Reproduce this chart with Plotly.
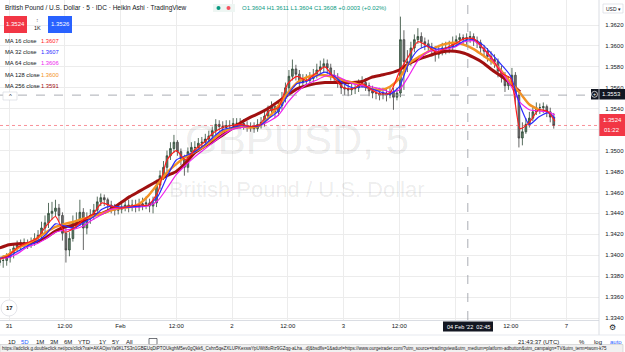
import plotly.graph_objects as go

# ---------------- data ----------------
# Heikin Ashi bars, one every 45 min, hours counted from Jan 31 00:00 (weekend removed)
bar_start_hour = -2.0
bar_step_hour = 0.75
first_open = 1.3393
closes = [
    1.3395, 1.3395, 1.3398, 1.3402, 1.3407, 1.3410, 1.3412, 1.3412, 1.3412, 1.3413,
    1.3416, 1.3419, 1.3426, 1.3431, 1.3440, 1.3442, 1.3445, 1.3438, 1.3421, 1.3405,
    1.3416, 1.3431, 1.3433, 1.3441, 1.3426, 1.3436, 1.3438, 1.3443, 1.3451, 1.3455,
    1.3453, 1.3448, 1.3445, 1.3443, 1.3444, 1.3446, 1.3448, 1.3446, 1.3448, 1.3446,
    1.3448, 1.3449, 1.3450, 1.3447, 1.3450, 1.3467, 1.3476, 1.3484, 1.3495, 1.3502,
    1.3508, 1.3499, 1.3492, 1.3484, 1.3499, 1.3503, 1.3503, 1.3507, 1.3508, 1.3511,
    1.3514, 1.3519, 1.3525, 1.3523, 1.3522, 1.3524, 1.3524, 1.3526, 1.3526, 1.3526,
    1.3524, 1.3522, 1.3522, 1.3521, 1.3525, 1.3527, 1.3533, 1.3538, 1.3542, 1.3537,
    1.3543, 1.3550, 1.3560, 1.3571, 1.3578, 1.3573, 1.3565, 1.3567, 1.3567, 1.3569,
    1.3572, 1.3577, 1.3580, 1.3583, 1.3579, 1.3572, 1.3570, 1.3565, 1.3560, 1.3559,
    1.3558, 1.3559, 1.3560, 1.3564, 1.3565, 1.3562, 1.3557, 1.3555, 1.3555, 1.3553,
    1.3555, 1.3553, 1.3556, 1.3551, 1.3555, 1.3606, 1.3585, 1.3584, 1.3598, 1.3606,
    1.3609, 1.3604, 1.3602, 1.3599, 1.3596, 1.3592, 1.3595, 1.3598, 1.3598, 1.3599,
    1.3603, 1.3606, 1.3608, 1.3606, 1.3608, 1.3609, 1.3605, 1.3603, 1.3598, 1.3595,
    1.3590, 1.3587, 1.3585, 1.3576, 1.3570, 1.3562, 1.3565, 1.3572, 1.3553, 1.3512,
    1.3518, 1.3525, 1.3531, 1.3537, 1.3541, 1.3541, 1.3542, 1.3537, 1.3532, 1.3524,
]
highs = [
    1.3399, 1.3400, 1.3402, 1.3406, 1.3411, 1.3414, 1.3415, 1.3416, 1.3415, 1.3417,
    1.3421, 1.3424, 1.3432, 1.3438, 1.3450, 1.3451, 1.3453, 1.3449, 1.3441, 1.3426,
    1.3422, 1.3438, 1.3441, 1.3453, 1.3445, 1.3441, 1.3444, 1.3449, 1.3456, 1.3459,
    1.3458, 1.3455, 1.3452, 1.3449, 1.3449, 1.3451, 1.3453, 1.3453, 1.3453, 1.3453,
    1.3454, 1.3455, 1.3456, 1.3454, 1.3456, 1.3472, 1.3481, 1.3490, 1.3500, 1.3508,
    1.3515, 1.3510, 1.3502, 1.3496, 1.3503, 1.3508, 1.3509, 1.3512, 1.3513, 1.3516,
    1.3519, 1.3523, 1.3530, 1.3529, 1.3528, 1.3529, 1.3529, 1.3531, 1.3531, 1.3531,
    1.3530, 1.3528, 1.3527, 1.3527, 1.3530, 1.3532, 1.3538, 1.3543, 1.3547, 1.3544,
    1.3548, 1.3556, 1.3565, 1.3577, 1.3587, 1.3582, 1.3577, 1.3573, 1.3573, 1.3575,
    1.3578, 1.3583, 1.3586, 1.3588, 1.3587, 1.3583, 1.3577, 1.3574, 1.3569, 1.3565,
    1.3564, 1.3564, 1.3565, 1.3568, 1.3571, 1.3569, 1.3565, 1.3562, 1.3560, 1.3560,
    1.3560, 1.3559, 1.3561, 1.3560, 1.3560, 1.3628, 1.3615, 1.3596, 1.3604, 1.3611,
    1.3617, 1.3613, 1.3608, 1.3606, 1.3603, 1.3600, 1.3601, 1.3603, 1.3604, 1.3605,
    1.3609, 1.3610, 1.3612, 1.3611, 1.3612, 1.3614, 1.3612, 1.3609, 1.3606, 1.3601,
    1.3598, 1.3595, 1.3592, 1.3588, 1.3581, 1.3575, 1.3571, 1.3579, 1.3575, 1.3556,
    1.3527, 1.3531, 1.3537, 1.3543, 1.3546, 1.3545, 1.3546, 1.3544, 1.3541, 1.3536,
]
lows = [
    1.3390, 1.3388, 1.3390, 1.3393, 1.3397, 1.3403, 1.3405, 1.3406, 1.3406, 1.3407,
    1.3409, 1.3412, 1.3414, 1.3422, 1.3426, 1.3434, 1.3437, 1.3432, 1.3414, 1.3393,
    1.3399, 1.3413, 1.3426, 1.3428, 1.3405, 1.3420, 1.3430, 1.3434, 1.3439, 1.3447,
    1.3447, 1.3443, 1.3440, 1.3438, 1.3439, 1.3440, 1.3442, 1.3441, 1.3442, 1.3441,
    1.3442, 1.3443, 1.3444, 1.3441, 1.3440, 1.3446, 1.3463, 1.3472, 1.3480, 1.3491,
    1.3498, 1.3495, 1.3486, 1.3476, 1.3479, 1.3496, 1.3498, 1.3500, 1.3502, 1.3504,
    1.3507, 1.3510, 1.3515, 1.3519, 1.3518, 1.3519, 1.3520, 1.3521, 1.3521, 1.3521,
    1.3520, 1.3518, 1.3518, 1.3517, 1.3518, 1.3521, 1.3523, 1.3529, 1.3534, 1.3531,
    1.3533, 1.3539, 1.3546, 1.3556, 1.3567, 1.3567, 1.3560, 1.3562, 1.3562, 1.3564,
    1.3565, 1.3569, 1.3573, 1.3575, 1.3573, 1.3567, 1.3565, 1.3560, 1.3554, 1.3553,
    1.3552, 1.3553, 1.3554, 1.3556, 1.3560, 1.3557, 1.3552, 1.3550, 1.3549, 1.3548,
    1.3549, 1.3547, 1.3550, 1.3539, 1.3548, 1.3551, 1.3558, 1.3575, 1.3581, 1.3594,
    1.3602, 1.3598, 1.3596, 1.3594, 1.3590, 1.3585, 1.3588, 1.3591, 1.3592, 1.3593,
    1.3595, 1.3599, 1.3601, 1.3601, 1.3601, 1.3603, 1.3600, 1.3598, 1.3593, 1.3589,
    1.3585, 1.3582, 1.3579, 1.3570, 1.3565, 1.3556, 1.3558, 1.3562, 1.3544, 1.3503,
    1.3505, 1.3516, 1.3522, 1.3528, 1.3534, 1.3535, 1.3536, 1.3532, 1.3527, 1.3521,
]

# moving averages, sampled every 2 hours
ma_hours = list(range(-2, 118, 2)) + [117.5]
ma16 = [
    1.3396, 1.3400, 1.3408, 1.3412, 1.3416, 1.3428, 1.3437, 1.3422, 1.3426, 1.3434,
    1.3439, 1.3450, 1.3447, 1.3445, 1.3447, 1.3448, 1.3448, 1.3460, 1.3491, 1.3500,
    1.3491, 1.3501, 1.3508, 1.3517, 1.3522, 1.3524, 1.3525, 1.3523, 1.3525, 1.3538,
    1.3541, 1.3564, 1.3571, 1.3567, 1.3574, 1.3580, 1.3569, 1.3560, 1.3559, 1.3564,
    1.3558, 1.3554, 1.3555, 1.3575, 1.3590, 1.3604, 1.3600, 1.3594, 1.3598, 1.3602,
    1.3607, 1.3607, 1.3598, 1.3588, 1.3574, 1.3569, 1.3521, 1.3527, 1.3539, 1.3537,
    1.3528,
]
ma32 = [
    1.3397, 1.3399, 1.3404, 1.3409, 1.3413, 1.3420, 1.3430, 1.3428, 1.3426, 1.3431,
    1.3436, 1.3444, 1.3447, 1.3446, 1.3446, 1.3447, 1.3448, 1.3456, 1.3475, 1.3491,
    1.3495, 1.3499, 1.3505, 1.3513, 1.3520, 1.3522, 1.3524, 1.3523, 1.3524, 1.3531,
    1.3538, 1.3553, 1.3564, 1.3566, 1.3571, 1.3575, 1.3571, 1.3564, 1.3560, 1.3561,
    1.3559, 1.3556, 1.3554, 1.3561, 1.3583, 1.3596, 1.3600, 1.3597, 1.3598, 1.3600,
    1.3605, 1.3606, 1.3601, 1.3592, 1.3582, 1.3571, 1.3543, 1.3525, 1.3532, 1.3536,
    1.3531,
]
ma64 = [
    1.3397, 1.3398, 1.3402, 1.3408, 1.3411, 1.3416, 1.3422, 1.3424, 1.3425, 1.3428,
    1.3434, 1.3439, 1.3444, 1.3445, 1.3446, 1.3446, 1.3447, 1.3452, 1.3464, 1.3477,
    1.3486, 1.3494, 1.3501, 1.3508, 1.3515, 1.3520, 1.3522, 1.3523, 1.3524, 1.3528,
    1.3534, 1.3546, 1.3556, 1.3563, 1.3567, 1.3571, 1.3572, 1.3568, 1.3564, 1.3562,
    1.3561, 1.3559, 1.3556, 1.3558, 1.3571, 1.3586, 1.3594, 1.3596, 1.3597, 1.3599,
    1.3604, 1.3605, 1.3598, 1.3587, 1.3575, 1.3562, 1.3546, 1.3539, 1.3538, 1.3537,
    1.3534,
]
ma128 = [
    1.3397, 1.3401, 1.3407, 1.3411, 1.3416, 1.3422, 1.3427, 1.3430, 1.3432, 1.3435,
    1.3437, 1.3440, 1.3443, 1.3445, 1.3446, 1.3449, 1.3457, 1.3468, 1.3479, 1.3487,
    1.3494, 1.3499, 1.3504, 1.3511, 1.3518, 1.3521, 1.3523, 1.3522, 1.3524, 1.3532,
    1.3543, 1.3555, 1.3565, 1.3570, 1.3572, 1.3572, 1.3570, 1.3567, 1.3565, 1.3562,
    1.3559, 1.3558, 1.3561, 1.3569, 1.3583, 1.3589, 1.3594, 1.3599, 1.3602, 1.3603,
    1.3601, 1.3597, 1.3591, 1.3585, 1.3576, 1.3565, 1.3555, 1.3544, 1.3539,
]
ma256 = [
    1.3407, 1.3410, 1.3411, 1.3411, 1.3413, 1.3417, 1.3423, 1.3427, 1.3429, 1.3433,
    1.3438, 1.3440, 1.3444, 1.3450, 1.3456, 1.3461, 1.3466, 1.3471, 1.3476, 1.3480,
    1.3488, 1.3498, 1.3504, 1.3509, 1.3515, 1.3521, 1.3527, 1.3532, 1.3536, 1.3541,
    1.3547, 1.3553, 1.3559, 1.3562, 1.3564, 1.3565, 1.3565, 1.3565, 1.3565, 1.3566,
    1.3570, 1.3572, 1.3574, 1.3577, 1.3583, 1.3587, 1.3590, 1.3593, 1.3595, 1.3595,
    1.3593, 1.3589, 1.3584, 1.3577, 1.3571, 1.3564, 1.3556,
]

# axis labels; "4" (Feb 4) and 1.3520 are hidden behind the crosshair / price labels
tick_hours = [0, 12, 24, 36, 48, 60, 72, 84, 96, 108, 120]
tick_text = ["31", "12:00", "Feb", "12:00", "2", "12:00", "3", "12:00", "", "12:00", "7"]
price_ticks = [1.3340, 1.3360, 1.3380, 1.3400, 1.3420, 1.3440, 1.3460, 1.3480,
               1.3500, 1.3520, 1.3540, 1.3560, 1.3580, 1.3600, 1.3620]
hidden_price_ticks = [1.3520]

legend_names = ["MA 16 close", "MA 32 close", "MA 64 close", "MA 128 close", "MA 256 close"]
legend_values = ["1.3607", "1.3607", "1.3606", "1.3600", "1.3591"]
ma_colors = ["#ff1d1d", "#2a2aff", "#ee22ee", "#f39224", "#a01010"]

last_price = 1.3524
bid_price = "1.3524"
ask_price = "1.3526"
cross_price = 1.3553
cross_hour = 98.75

x_range = [-1.94, 126.99]
y_range = [1.33381, 1.36439]

# ---------------- figure ----------------
W, H = 625, 352
ML, MR, MT, MB = 0, 26, 0, 32
PW, PH = W - ML - MR, H - MT - MB
FONT = "Liberation Sans, Arial, DejaVu Sans, sans-serif"


def px(x):
    return x / PW


def py(y):
    return 1 - y / PH


bar_hours = [bar_start_hour + bar_step_hour * i for i in range(len(closes))]
opens = [first_open] + closes[:-1]

fig = go.Figure()
fig.add_trace(go.Candlestick(
    x=bar_hours, open=opens, high=highs, low=lows, close=closes,
    increasing=dict(line=dict(color="#2e4a37", width=0.8), fillcolor="#66806d"),
    decreasing=dict(line=dict(color="#404040", width=0.8), fillcolor="#767676"),
    whiskerwidth=0, showlegend=False, hoverinfo="skip"))

ma_series = [ma256, ma128, ma64, ma32, ma16]
ma_styles = [(ma_colors[4], 3.0), (ma_colors[3], 2.4), (ma_colors[2], 1.2),
             (ma_colors[1], 1.2), (ma_colors[0], 1.2)]
for vals, (col, wid) in zip(ma_series, ma_styles):
    fig.add_trace(go.Scatter(
        x=ma_hours[:len(vals)], y=vals, mode="lines",
        line=dict(color=col, width=wid, shape="spline", smoothing=0.6),
        hoverinfo="skip", showlegend=False))

shapes = []
annotations = []


def txt(x, y, s, size=6, color="#131722", xanchor="left", **kw):
    annotations.append(dict(x=px(x), y=py(y), xref="paper", yref="paper", text=s,
                            showarrow=False, xanchor=xanchor, yanchor="middle",
                            font=dict(size=size, color=color, family=FONT), **kw))


def rect(x0, y0, x1, y1, fill, line=None, lw=0):
    shapes.append(dict(type="rect", xref="paper", yref="paper",
                       x0=px(x0), x1=px(x1), y0=py(y0), y1=py(y1),
                       fillcolor=fill, line=dict(color=line or fill, width=lw), layer="above"))


def hline(x0, x1, y, color, w=1):
    shapes.append(dict(type="line", xref="paper", yref="paper", x0=px(x0), x1=px(x1),
                       y0=py(y), y1=py(y), line=dict(color=color, width=w)))


def vline(x, y0, y1, color, w=1):
    shapes.append(dict(type="line", xref="paper", yref="paper", x0=px(x), x1=px(x),
                       y0=py(y0), y1=py(y1), line=dict(color=color, width=w)))


# watermark
txt(297, 139, "GBPUSD, 5", size=42, color="rgba(0,0,0,0.085)", xanchor="center")
txt(297, 189, "British Pound / U.S. Dollar", size=22, color="rgba(0,0,0,0.085)", xanchor="center")

# crosshair & last price lines
shapes.append(dict(type="line", xref="x", yref="paper", x0=cross_hour, x1=cross_hour, y0=0, y1=1,
                   line=dict(color="#9598a1", width=0.8, dash="dash")))
shapes.append(dict(type="line", xref="paper", yref="y", x0=0, x1=1, y0=cross_price, y1=cross_price,
                   line=dict(color="#9598a1", width=0.8, dash="dash")))
shapes.append(dict(type="line", xref="paper", yref="y", x0=0, x1=1, y0=last_price, y1=last_price,
                   line=dict(color="rgba(242,54,69,0.55)", width=1, dash="dot")))

# header
txt(3, 8, "British Pound / U.S. Dollar · 5 · IDC · Heikin Ashi · TradingView", size=6.5, color="#131722")
rect(213, 4, 235, 12, "#eef6f3")
shapes.append(dict(type="circle", xref="paper", yref="paper", x0=px(216.5), x1=px(220.5),
                   y0=py(10), y1=py(6), fillcolor="#089981", line=dict(width=0)))
shapes.append(dict(type="circle", xref="paper", yref="paper", x0=px(226.5), x1=px(230.5),
                   y0=py(10), y1=py(6), fillcolor="#f7525f", line=dict(width=0)))
txt(240, 8, "O1.3604 H1.3611 L1.3604 C1.3608 +0.0003 (+0.02%)", size=6, color="#089981")

# bid / ask boxes
rect(4, 16, 27, 33, "#f23645")
txt(15.5, 24.5, bid_price, size=6, color="white", xanchor="center")
txt(37, 20, "↕", size=5, color="#787b86", xanchor="center")
txt(37, 28, "1K", size=5.5, color="#131722", xanchor="center")
rect(48, 16, 72, 33, "#2962ff")
txt(60, 24.5, ask_price, size=6, color="white", xanchor="center")

# MA legend
for i, (name, val, col) in enumerate(zip(legend_names, legend_values, ma_colors)):
    yy = 41 + i * 11.2
    txt(3, yy, name, size=5.8, color="#131722")
    txt(39, yy, val, size=5.8, color=col)
rect(3, 92, 17, 100, "white", "#d1d4dc", 0.6)
txt(10, 96.5, "^", size=6, color="#131722", xanchor="center")

# right axis decorations
rect(603, 4, 623, 13, "white", "#d1d4dc", 0.6)
txt(613, 8.5, "USD ▾", size=5, color="#131722", xanchor="center")
rect(591, 89, 625, 99.5, "#131722")
shapes.append(dict(type="circle", xref="paper", yref="paper", x0=px(591.5), x1=px(597.5),
                   y0=py(97.3), y1=py(91.3), line=dict(color="white", width=0.7)))
txt(594.5, 94.3, "+", size=5.5, color="white", xanchor="center")
txt(611, 94.3, "1.3553", size=6, color="white", xanchor="center")
rect(599, 114, 625, 136, "#f23645")
txt(612, 119.5, "1.3524", size=6, color="white", xanchor="center")
txt(612, 130, "01:22", size=6, color="white", xanchor="center")

# bottom axis decorations
rect(443, 321.5, 493, 331.5, "#131722")
txt(468, 326.5, "04 Feb '22  02:45", size=5.6, color="white", xanchor="center")
vline(599, 0, 335, "#d1d4dc", 0.8)
hline(0, 625, 335, "#e0e3eb", 0.8)
txt(612, 327, "⚙", size=8, color="#131722", xanchor="center")
shapes.append(dict(type="circle", xref="paper", yref="paper", x0=px(1), x1=px(17),
                   y0=py(316), y1=py(300), fillcolor="white", line=dict(color="#d1d4dc", width=0.6)))
txt(9, 308, "<b>17</b>", size=6, color="#131722", xanchor="center")

# toolbar
for lab, xx, col in [("1D", 12, "#131722"), ("5D", 25, "#2962ff"), ("1M", 40, "#131722"),
                     ("3M", 54, "#131722"), ("6M", 68, "#131722"), ("YTD", 85, "#131722"),
                     ("1Y", 102, "#131722"), ("5Y", 115, "#131722"), ("All", 129, "#131722")]:
    txt(xx, 342, lab, size=6, color=col, xanchor="center")
rect(149, 338.5, 157, 344.5, "white", "#131722", 0.6)
txt(538, 341.5, "21:43:37 (UTC)", size=6, color="#131722", xanchor="center")
txt(582, 341.5, "%", size=6, color="#131722", xanchor="center")
txt(598, 341.5, "log", size=6, color="#131722", xanchor="center")
txt(616, 341.5, "auto", size=6, color="#2962ff", xanchor="center")

# browser status bar
rect(0, 344.5, 623, 352.5, "#f1f1f1", "#c8c8c8", 0.6)
txt(0.5, 348.5,
    "https://adclick.g.doubleclick.net/pcs/click?xai=AKAOjsvYa9KLTS3n1GBEUqDiPTOUkghM5ev0gQkk6_Cshn5qeZXLUPKexswYpUWt8oRiz9GZqg-aLha...d]&amp;bsdfls=1&amp;adurl=https://www.ourgetrader.com/?utm_source=tradingview&amp;utm_medium=platform-adbutton&amp;utm_campaign=TV&amp;utm_term=twom-k75",
    size=4.5, color="#222222", borderpad=0)

fig.update_layout(
    width=W, height=H, margin=dict(l=ML, r=MR, t=MT, b=MB),
    paper_bgcolor="white", plot_bgcolor="white",
    font=dict(family=FONT, size=6, color="#131722"),
    showlegend=False, hovermode=False,
    shapes=shapes, annotations=annotations,
    xaxis=dict(range=x_range, tickmode="array", tickvals=tick_hours, ticktext=tick_text,
               showgrid=True, gridcolor="#ececec", gridwidth=1, zeroline=False,
               showline=True, linecolor="#d1d4dc", linewidth=0.8, ticks="",
               tickfont=dict(size=6, color="#131722"), rangeslider=dict(visible=False),
               fixedrange=True),
    yaxis=dict(range=y_range, side="right", tickmode="array", tickvals=price_ticks,
               ticktext=["" if v in hidden_price_ticks else "%.4f" % v for v in price_ticks],
               showgrid=True, gridcolor="#ececec", gridwidth=1, zeroline=False,
               showline=False, ticks="outside", ticklen=4, tickcolor="rgba(0,0,0,0)",
               tickfont=dict(size=6, color="#131722"), fixedrange=True),
)

fig.write_html("out.html", include_plotlyjs=True, config={"displayModeBar": False, "staticPlot": True})
